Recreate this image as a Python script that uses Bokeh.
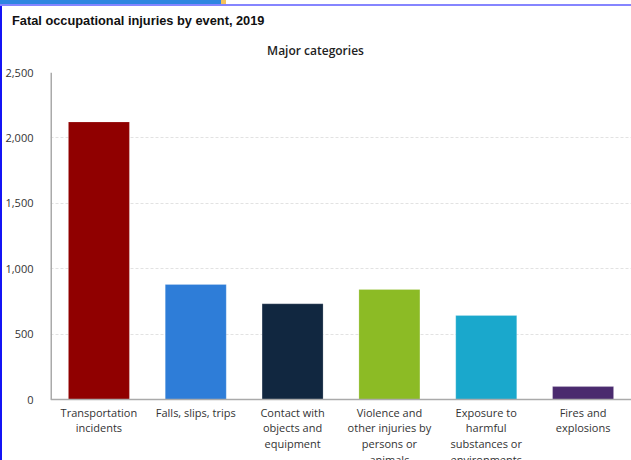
from bokeh.plotting import figure
from bokeh.models import ColumnDataSource, Div, NumeralTickFormatter, FactorRange, Span
from bokeh.core.properties import value
from bokeh.layouts import column, row
from bokeh.embed import file_html
from bokeh.resources import INLINE

categories = ["Transportation incidents", "Falls, slips, trips", "Contact with objects and equipment",
              "Violence and other injuries by persons or animals",
              "Exposure to harmful substances or environments", "Fires and explosions"]
tick_labels = ["Transportation\nincidents", "Falls, slips, trips", "Contact with\nobjects and\nequipment",
               "Violence and\nother injuries by\npersons or\nanimals", "Exposure to\nharmful\nsubstances or\nenvironments",
               "Fires and\nexplosions"]
values = [2122, 880, 732, 841, 642, 99]
colors = ["#900000", "#2e7dd8", "#112740", "#8cbb25", "#1aa8cc", "#4a2a6e"]
y_ticks = [0, 500, 1000, 1500, 2000, 2500]

src = ColumnDataSource(dict(cat=categories, val=values, color=colors, lab=tick_labels, base=[0] * len(values)))

# the frame runs below zero so that the category labels sit inside it (cut at the window's edge, as in the source)
p = figure(width=629, height=394, x_range=FactorRange(*categories, range_padding=0), y_range=(-466, 2500),
           output_backend="svg", toolbar_location=None,
           min_border_left=44, min_border_right=0, min_border_top=6, min_border_bottom=0)
p.vbar(x="cat", top="val", width=0.63, color="color", source=src, line_color="white", line_width=0.5, line_alpha=0.4)

p.outline_line_color = None
p.xgrid.grid_line_color = None
p.ygrid.grid_line_color = "#e2e2e2"
p.ygrid.grid_line_dash = "3 2"
p.yaxis.ticker = y_ticks
p.yaxis.formatter = NumeralTickFormatter(format="0,0")
p.yaxis.axis_line_color = None
p.yaxis.major_tick_line_color = None
p.yaxis.minor_tick_line_color = None
p.yaxis.major_label_text_font = "Open Sans"
p.yaxis.major_label_text_font_size = "11px"
p.yaxis.major_label_text_color = "#333333"
p.yaxis.major_label_standoff = 11
p.xaxis.visible = False

# axis lines
p.add_layout(Span(location=0, dimension="width", line_color="#aaaaaa", line_width=1.5))
p.segment(x0=[0], y0=[0], x1=[0], y1=[y_ticks[-1]], line_color="#aaaaaa", line_width=3)

# category labels
p.text(x="cat", y="base", text="lab", source=src, text_align="center", text_baseline="top",
       y_offset=5, text_font=value("Open Sans"), text_font_size="11px",
       text_color="#333333", text_line_height=1.05)

top_html = (
    '<div style="position:relative;width:631px;height:66px;background:white;">'
    '<div style="position:absolute;left:0;top:0;width:221px;height:4px;background:#2f86e0;"></div>'
    '<div style="position:absolute;left:221px;top:0;width:5px;height:4px;background:#f5c35a;"></div>'
    '<div style="position:absolute;left:0;top:4px;width:631px;height:2px;background:#8585ff;"></div>'
    '<div style="position:absolute;left:0;top:6px;width:2px;height:60px;background:#1414f5;"></div>'
    '<div style="position:absolute;left:12px;top:12px;font-family:\'Liberation Sans\';font-weight:bold;'
    'font-size:12.8px;color:#111;white-space:nowrap;">Fatal occupational injuries by event, 2019</div>'
    '<div style="position:absolute;left:0;width:631px;top:42px;text-align:center;font-family:\'Open Sans\';'
    'font-weight:600;font-size:12px;color:#222;">Major categories</div>'
    '</div>'
)
top = Div(text=top_html, width=631, height=66, margin=0, styles={"padding": "0", "margin": "0"})
left = Div(text="", width=2, height=394, margin=0, styles={"background-color": "#1414f5"})
layout = column(top, row(left, p, margin=0, spacing=0), margin=0, spacing=0)

open("out.html", "w").write(file_html(layout, INLINE))
